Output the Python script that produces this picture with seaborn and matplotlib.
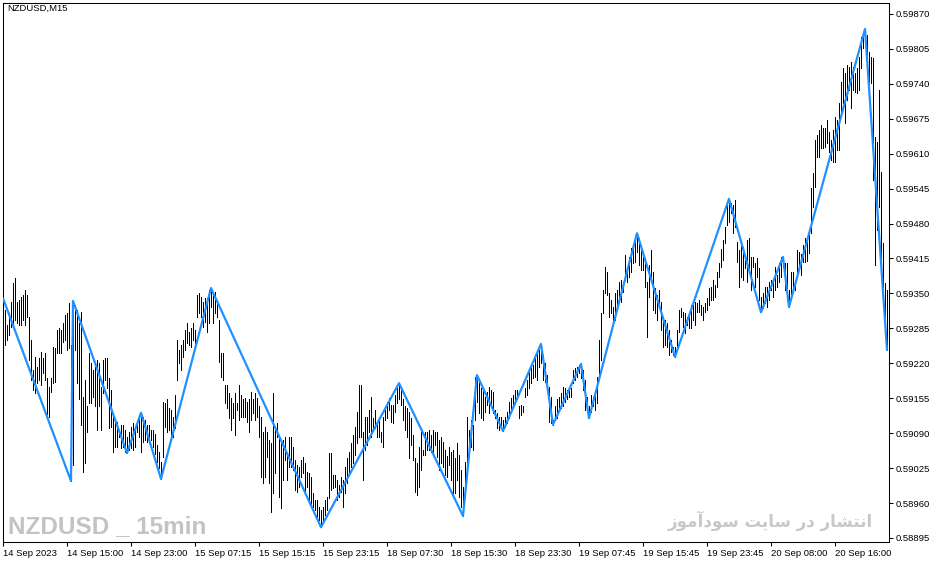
import numpy as np
import pandas as pd
import matplotlib
matplotlib.use("Agg")
import matplotlib.pyplot as plt
from matplotlib.ticker import FormatStrFormatter
import seaborn as sns

# NZDUSD M15 bars, high / low in points (1e-5), one value per bar
high_pts = [
    59301, 59320, 59292, 59314, 59334, 59370, 59379, 59334, 59338, 59343,
    59347, 59356, 59347, 59306, 59264, 59208, 59232, 59213, 59230, 59241,
    59230, 59239, 59193, 59176, 59193, 59250, 59248, 59282, 59286, 59282,
    59295, 59310, 59314, 59332, 59254, 59336, 59328, 59319, 59295, 59315,
    59157, 59189, 59140, 59239, 59220, 59208, 59213, 59226, 59220, 59176,
    59226, 59230, 59230, 59193, 59170, 59121, 59115, 59111, 59096, 59106,
    59106, 59096, 59083, 59092, 59102, 59109, 59102, 59111, 59121, 59128,
    59121, 59115, 59106, 59106, 59096, 59096, 59089, 59068, 59055, 59037,
    59148, 59146, 59153, 59137, 59133, 59121, 59161, 59264, 59245, 59254,
    59264, 59282, 59295, 59278, 59286, 59295, 59282, 59347, 59351, 59343,
    59334, 59341, 59341, 59356, 59360, 59351, 59353, 59338, 59301, 59239,
    59239, 59180, 59180, 59165, 59155, 59146, 59165, 59146, 59180, 59161,
    59153, 59155, 59148, 59153, 59167, 59153, 59165, 59155, 59140, 59121,
    59092, 59102, 59092, 59078, 59072, 59165, 59102, 59109, 59083, 59078,
    59078, 59083, 59053, 59083, 59083, 59064, 59040, 59031, 59027, 59040,
    59046, 59035, 59018, 59016, 59008, 58979, 58966, 58966, 58953, 58947,
    58953, 58966, 58971, 59053, 59053, 59012, 59012, 59003, 58994, 59008,
    59003, 59027, 59044, 59055, 59072, 59087, 59102, 59130, 59180, 59180,
    59092, 59121, 59121, 59133, 59157, 59118, 59133, 59106, 59115, 59092,
    59121, 59140, 59148, 59155, 59142, 59142, 59161, 59174, 59183, 59176,
    59153, 59140, 59137, 59130, 59118, 59087, 59044, 59035, 59064, 59092,
    59059, 59092, 59092, 59096, 59087, 59096, 59092, 59092, 59078, 59083,
    59074, 59059, 59048, 59064, 59055, 59059, 59044, 59072, 59049, 59021,
    58990, 59037, 59121, 59096, 59115, 59106, 59195, 59198, 59189, 59174,
    59176, 59157, 59167, 59176, 59170, 59167, 59133, 59128, 59121, 59121,
    59115, 59121, 59130, 59148, 59155, 59161, 59170, 59170, 59140, 59142,
    59140, 59174, 59189, 59204, 59213, 59217, 59232, 59239, 59245, 59256,
    59235, 59220, 59198, 59176, 59157, 59115, 59140, 59153, 59157, 59165,
    59176, 59174, 59170, 59176, 59174, 59208, 59211, 59213, 59217, 59219,
    59208, 59189, 59157, 59140, 59161, 59157, 59165, 59195, 59264, 59314,
    59356, 59399, 59390, 59351, 59338, 59325, 59351, 59356, 59371, 59375,
    59371, 59421, 59397, 59418, 59435, 59440, 59455, 59462, 59453, 59440,
    59418, 59416, 59371, 59403, 59431, 59390, 59360, 59347, 59356, 59334,
    59297, 59301, 59295, 59282, 59264, 59250, 59250, 59282, 59319, 59323,
    59315, 59314, 59306, 59314, 59328, 59332, 59334, 59332, 59338, 59328,
    59325, 59332, 59341, 59360, 59362, 59375, 59366, 59390, 59407, 59433,
    59450, 59474, 59518, 59526, 59518, 59515, 59524, 59446, 59431, 59444,
    59436, 59422, 59450, 59453, 59418, 59418, 59407, 59416, 59397, 59343,
    59351, 59362, 59362, 59371, 59375, 59375, 59399, 59384, 59407, 59418,
    59418, 59407, 59407, 59356, 59390, 59390, 59375, 59431, 59427, 59423,
    59440, 59453, 59453, 59466, 59546, 59574, 59636, 59645, 59654, 59663,
    59658, 59658, 59673, 59650, 59636, 59654, 59678, 59673, 59704, 59743,
    59769, 59760, 59775, 59771, 59781, 59771, 59760, 59769, 59790, 59827,
    59835, 59842, 59831, 59799, 59790, 59788, 59641, 59632, 59729, 59576,
    59444, 59369, 59356,
]
low_pts = [
    59278, 59254, 59264, 59273, 59288, 59292, 59301, 59295, 59292, 59292,
    59301, 59292, 59306, 59226, 59189, 59170, 59165, 59183, 59189, 59180,
    59202, 59189, 59125, 59121, 59167, 59183, 59185, 59239, 59239, 59239,
    59260, 59264, 59245, 59248, 59001, 59031, 59245, 59183, 59153, 59106,
    59018, 59035, 59092, 59146, 59146, 59157, 59140, 59096, 59140, 59096,
    59165, 59189, 59174, 59100, 59102, 59055, 59064, 59064, 59083, 59062,
    59064, 59055, 59053, 59059, 59062, 59059, 59064, 59092, 59083, 59055,
    59074, 59078, 59074, 59072, 59078, 59064, 59051, 59037, 59025, 59005,
    59046, 59102, 59092, 59096, 59087, 59083, 59100, 59189, 59220, 59208,
    59232, 59245, 59258, 59254, 59250, 59264, 59258, 59306, 59314, 59306,
    59288, 59297, 59278, 59295, 59325, 59295, 59314, 59306, 59222, 59195,
    59189, 59146, 59137, 59118, 59096, 59118, 59087, 59133, 59115, 59121,
    59121, 59121, 59111, 59092, 59115, 59128, 59115, 59121, 59083, 59008,
    58997, 59008, 59046, 58997, 58943, 58979, 59016, 59083, 58971, 58951,
    59003, 59040, 59003, 59027, 59027, 59021, 58984, 58981, 58990, 59008,
    59016, 58979, 58990, 58966, 58953, 58953, 58947, 58929, 58929, 58915,
    58929, 58938, 58947, 58969, 58984, 58988, 58990, 58966, 58971, 58981,
    58953, 58979, 58997, 59016, 59027, 59035, 59049, 59072, 59083, 59083,
    59003, 59059, 59068, 59092, 59083, 59096, 59100, 59083, 59083, 59074,
    59064, 59115, 59118, 59133, 59111, 59109, 59130, 59146, 59153, 59142,
    59115, 59096, 59083, 59044, 59068, 59040, 58981, 58975, 58990, 59021,
    59049, 59049, 59059, 59059, 59055, 59053, 59068, 59046, 59021, 59035,
    59027, 59012, 59008, 59031, 59003, 58971, 58979, 59003, 58971, 58953,
    58936, 58971, 59008, 59046, 59064, 59059, 59115, 59148, 59128, 59118,
    59115, 59130, 59142, 59128, 59142, 59128, 59118, 59100, 59096, 59100,
    59094, 59102, 59109, 59118, 59133, 59140, 59146, 59153, 59118, 59124,
    59130, 59157, 59161, 59174, 59183, 59193, 59195, 59189, 59213, 59220,
    59189, 59185, 59170, 59111, 59109, 59106, 59115, 59118, 59133, 59137,
    59140, 59148, 59153, 59157, 59157, 59183, 59189, 59195, 59202, 59193,
    59170, 59133, 59133, 59118, 59130, 59140, 59133, 59146, 59198, 59226,
    59314, 59351, 59347, 59306, 59314, 59297, 59301, 59323, 59334, 59334,
    59353, 59375, 59371, 59381, 59390, 59407, 59409, 59427, 59403, 59394,
    59394, 59362, 59269, 59343, 59371, 59319, 59314, 59301, 59328, 59282,
    59250, 59254, 59250, 59236, 59241, 59236, 59232, 59245, 59278, 59306,
    59288, 59276, 59292, 59286, 59286, 59301, 59292, 59315, 59315, 59310,
    59301, 59315, 59319, 59328, 59338, 59338, 59343, 59362, 59381, 59399,
    59412, 59444, 59477, 59483, 59500, 59462, 59474, 59409, 59362, 59381,
    59375, 59397, 59371, 59388, 59356, 59399, 59362, 59381, 59338, 59315,
    59323, 59332, 59325, 59338, 59356, 59343, 59356, 59362, 59371, 59381,
    59399, 59356, 59338, 59325, 59343, 59356, 59356, 59388, 59397, 59384,
    59409, 59409, 59410, 59425, 59462, 59511, 59548, 59604, 59604, 59621,
    59621, 59622, 59630, 59613, 59598, 59595, 59595, 59617, 59617, 59686,
    59704, 59667, 59710, 59729, 59695, 59729, 59725, 59723, 59729, 59769,
    59807, 59816, 59790, 59743, 59742, 59561, 59403, 59468, 59511, 59381,
    59362, 59288, 59245,
]

# zigzag turning points (bar index, price in points)
zz_idx = [0, 34, 35, 62, 69, 79, 104, 159, 198, 230, 237, 250, 269, 275,
          289, 293, 317, 336, 363, 379, 390, 393, 431, 442]
zz_pts = [59341, 59001, 59336, 59053, 59128, 59005, 59360, 58915, 59183, 58936,
          59198, 59094, 59256, 59106, 59219, 59118, 59462, 59232, 59526, 59315,
          59418, 59325, 59842, 59245]

x_labels = ["14 Sep 2023", "14 Sep 15:00", "14 Sep 23:00", "15 Sep 07:15",
            "15 Sep 15:15", "15 Sep 23:15", "18 Sep 07:30", "18 Sep 15:30",
            "18 Sep 23:30", "19 Sep 07:45", "19 Sep 15:45", "19 Sep 23:45",
            "20 Sep 08:00", "20 Sep 16:00"]

symbol_label = "NZDUSD,M15"
watermark = "NZDUSD _ 15min"
site_note = "انتشار در سایت سودآموز"

# arabic letters -> (isolated, final, initial, medial); matplotlib has no shaping
FORMS = {
    "\u0627": ("\uFE8D", "\uFE8E", None, None),
    "\u0622": ("\uFE81", "\uFE82", None, None),
    "\u0646": ("\uFEE5", "\uFEE6", "\uFEE7", "\uFEE8"),
    "\u062A": ("\uFE95", "\uFE96", "\uFE97", "\uFE98"),
    "\u0634": ("\uFEB5", "\uFEB6", "\uFEB7", "\uFEB8"),
    "\u0631": ("\uFEAD", "\uFEAE", None, None),
    "\u062F": ("\uFEA9", "\uFEAA", None, None),
    "\u0633": ("\uFEB1", "\uFEB2", "\uFEB3", "\uFEB4"),
    "\u06CC": ("\uFBFC", "\uFBFD", "\uFBFE", "\uFBFF"),
    "\u0648": ("\uFEED", "\uFEEE", None, None),
    "\u0645": ("\uFEE1", "\uFEE2", "\uFEE3", "\uFEE4"),
    "\u0632": ("\uFEAF", "\uFEB0", None, None),
}


def shape_rtl(text):
    out = []
    for word in text.split(" "):
        shaped = []
        for k, ch in enumerate(word):
            forms = FORMS.get(ch)
            if forms is None:
                shaped.append(ch)
                continue
            prev_joins = k > 0 and FORMS.get(word[k - 1], (0, 0, None))[2] is not None
            next_joins = k < len(word) - 1 and forms[2] is not None and word[k + 1] in FORMS
            if prev_joins and next_joins:
                shaped.append(forms[3])
            elif prev_joins:
                shaped.append(forms[1])
            elif next_joins:
                shaped.append(forms[2])
            else:
                shaped.append(forms[0])
        out.append("".join(reversed(shaped)))
    return " ".join(reversed(out))


bars = pd.DataFrame({"high": np.array(high_pts) / 1e5, "low": np.array(low_pts) / 1e5})
bars["idx"] = np.arange(len(bars))
zz = pd.DataFrame({"idx": zz_idx, "price": np.array(zz_pts) / 1e5})

sns.set_theme(style="white")
plt.rcParams["font.family"] = ["Liberation Sans", "DejaVu Sans"]

W, H = 935, 563
fig = plt.figure(figsize=(W / 100, H / 100), dpi=100)
ax = fig.add_axes([3 / W, 21 / H, 886 / W, 539 / H])

ax.vlines(bars["idx"], bars["low"], bars["high"], colors="black",
          linewidth=0.5, antialiased=False, zorder=2)
sns.lineplot(data=zz, x="idx", y="price", ax=ax, color="#1e90ff",
             linewidth=1.6, estimator=None, sort=False, zorder=3)

ax.set_xlim(0, 443)
ax.set_ylim(0.588875, 0.598904)
ax.set_xlabel("")
ax.set_ylabel("")

y_ticks = [round(0.58895 + 0.00065 * k, 5) for k in range(16)]
ax.yaxis.tick_right()
ax.set_yticks(y_ticks)
ax.yaxis.set_major_formatter(FormatStrFormatter("%.5f"))
ax.set_xticks([32 * k for k in range(len(x_labels))])
ax.set_xticklabels(x_labels, ha="left")
ax.tick_params(axis="both", direction="out", length=3, width=0.75,
               color="black", labelsize=6.8, labelcolor="black", pad=2)
ax.tick_params(axis="y", left=False, right=True)
ax.tick_params(axis="x", bottom=True, top=False)
for s in ax.spines.values():
    s.set_visible(True)
    s.set_color("black")
    s.set_linewidth(0.75)

fig.text(7 / W, 1 - 4 / H, symbol_label, fontsize=6.8, color="black",
         ha="left", va="top")
fig.text(8 / W, 1 - 533 / H, watermark, fontsize=17.5, fontweight="bold",
         color="#c3c3c3", ha="left", va="baseline",
         family=["Liberation Sans"])
fig.text(873 / W, 1 - 527 / H, shape_rtl(site_note), fontsize=12,
         fontweight="bold", color="#c8c8c8", ha="right", va="baseline",
         family=["DejaVu Sans"])

fig.savefig("out.png", dpi=100)
